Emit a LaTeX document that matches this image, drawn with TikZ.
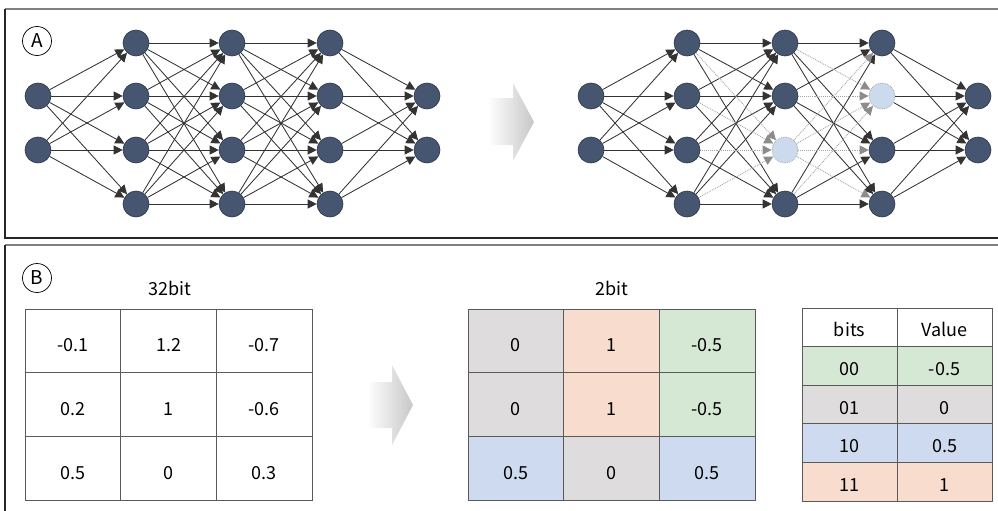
\documentclass[tikz,border=0pt]{standalone}
\usepackage{fontspec}
\setmainfont{Noto Sans CJK KR}
\usetikzlibrary{arrows.meta,backgrounds}
\definecolor{nodefill}{HTML}{465670}
\definecolor{nodeedge}{HTML}{2B3545}
\definecolor{prunefill}{HTML}{CCDAEE}
\definecolor{cgray}{HTML}{DEDCDC}
\definecolor{cpeach}{HTML}{F8DCCD}
\definecolor{cgreen}{HTML}{D5E8D3}
\definecolor{cblue}{HTML}{CEDAF0}
\definecolor{gridline}{HTML}{5A5A5A}
\tikzset{
  neuron/.style={circle,fill=nodefill,draw=nodeedge,line width=0.6pt,minimum size=26pt,inner sep=0pt},
  pruned/.style={circle,fill=prunefill,draw=black!35,densely dotted,line width=0.8pt,minimum size=26pt,inner sep=0pt},
  edge/.style={draw=black!80,line width=0.85pt,-{Triangle[length=9pt,width=9pt]}},
  pedge/.style={draw=black!35,densely dotted,line width=0.9pt,-{Triangle[length=9pt,width=9pt,color=black!45,fill=black!45]}},
  cell/.style={draw=gridline,line width=0.8pt,inner sep=0pt,outer sep=0pt,minimum width=95.7pt,minimum height=63.7pt,text height=22pt,text depth=0pt,font=\fontsize{18}{20}\selectfont},
  lcell/.style={draw=gridline,line width=0.8pt,inner sep=0pt,outer sep=0pt,minimum width=95pt,minimum height=38.6pt,text height=19pt,text depth=0pt,font=\fontsize{18}{20}\selectfont},
  title/.style={font=\fontsize{18}{20}\selectfont},
  panelmark/.style={circle,draw=black,line width=0.7pt,minimum size=29pt,inner sep=0pt,font=\fontsize{19}{20}\selectfont}
}
\begin{document}
\begin{tikzpicture}[x=1pt,y=-1pt]
\useasboundingbox (0,0) rectangle (998,511);
% panel frames
\draw[black!50,line width=1.5pt] (5,9) -- (998,9);
\draw[black!85,line width=1.2pt] (5,9) -- (5,238) -- (998,238);
\draw[black!50,line width=1.5pt] (5,245) -- (998,245);
\draw[black!85,line width=1.2pt] (5,245) -- (5,511);
\node[panelmark] (markA) at (37,41) {A};
\node[panelmark] (markB) at (37,278) {B};
% ---- left network
\foreach \i/\y in {1/96,2/150} {\node[neuron] (L0\i) at (38,\y) {};}
\foreach \l/\x in {1/136,2/232,3/330} {
  \foreach \i/\y in {1/43,2/96,3/150,4/204} {\node[neuron] (L\l\i) at (\x,\y) {};}
}
\foreach \i/\y in {1/96,2/150} {\node[neuron] (L4\i) at (427,\y) {};}
\begin{scope}[on background layer]
\foreach \i in {1,2} \foreach \j in {1,...,4} \draw[edge] (L0\i) -- (L1\j);
\foreach \i in {1,...,4} \foreach \j in {1,...,4} {\draw[edge] (L1\i) -- (L2\j); \draw[edge] (L2\i) -- (L3\j);}
\foreach \i in {1,...,4} \foreach \j in {1,2} \draw[edge] (L3\i) -- (L4\j);
\end{scope}
% ---- right network
\foreach \i/\y in {1/96,2/150} {\node[neuron] (R0\i) at (591,\y) {};}
\foreach \i/\y in {1/43,2/96,3/150,4/204} {\node[neuron] (R1\i) at (687,\y) {};}
\foreach \i/\y in {1/43,2/96,4/204} {\node[neuron] (R2\i) at (785,\y) {};}
\node[pruned] (R23) at (785,150) {};
\foreach \i/\y in {1/43,3/150,4/204} {\node[neuron] (R3\i) at (882,\y) {};}
\node[pruned] (R32) at (882,96) {};
\foreach \i/\y in {1/96,2/150} {\node[neuron] (R4\i) at (978,\y) {};}
\begin{scope}[on background layer]
\foreach \i in {1,2} \foreach \j in {1,...,4} \draw[edge] (R0\i) -- (R1\j);
\foreach \i in {1,...,4} \foreach \j in {1,2,4} \draw[edge] (R1\i) -- (R2\j);
\foreach \i in {1,...,4} \draw[pedge] (R1\i) -- (R23);
\foreach \i in {1,2,4} \foreach \j in {1,3,4} \draw[edge] (R2\i) -- (R3\j);
\foreach \i in {1,2,4} \draw[pedge] (R2\i) -- (R32);
\foreach \j in {1,3,4} \draw[pedge] (R23) -- (R3\j);
\draw[pedge] (R23) -- (R32);
\foreach \i in {1,...,4} \foreach \j in {1,2} \draw[edge] (R3\i) -- (R4\j);
\end{scope}
% ---- big arrows
\shade[left color=white,right color=black!22] (488,98) -- (513,98) -- (513,83) -- (534,122) -- (513,161) -- (513,145) -- (488,145) -- cycle;
\shade[left color=white,right color=black!22] (367,382) -- (392,382) -- (392,365) -- (413,405) -- (392,445) -- (392,428) -- (367,428) -- cycle;
% ---- table 32bit
\node[title] (t32) at (170,288) {32bit};
\node[cell] (A11) at (72.9,340.8) {-0.1};
\node[cell] (A12) at (168.6,340.8) {1.2};
\node[cell] (A13) at (264.3,340.8) {-0.7};
\node[cell] (A21) at (72.9,404.5) {0.2};
\node[cell] (A22) at (168.6,404.5) {1};
\node[cell] (A23) at (264.3,404.5) {-0.6};
\node[cell] (A31) at (72.9,468.2) {0.5};
\node[cell] (A32) at (168.6,468.2) {0};
\node[cell] (A33) at (264.3,468.2) {0.3};
% ---- table 2bit
\node[title] (t2) at (612,288) {2bit};
\node[cell,fill=cgray]  (B11) at (515.9,340.8) {0};
\node[cell,fill=cpeach] (B12) at (611.6,340.8) {1};
\node[cell,fill=cgreen] (B13) at (707.3,340.8) {-0.5};
\node[cell,fill=cgray]  (B21) at (515.9,404.5) {0};
\node[cell,fill=cpeach] (B22) at (611.6,404.5) {1};
\node[cell,fill=cgreen] (B23) at (707.3,404.5) {-0.5};
\node[cell,fill=cblue]  (B31) at (515.9,468.2) {0.5};
\node[cell,fill=cgray]  (B32) at (611.6,468.2) {0};
\node[cell,fill=cblue]  (B33) at (707.3,468.2) {0.5};
% ---- lookup table
\node[lcell] (C01) at (849.5,327.3) {bits};
\node[lcell] (C02) at (944.5,327.3) {Value};
\node[lcell,fill=cgreen] (C11) at (849.5,365.9) {00};
\node[lcell,fill=cgreen] (C12) at (944.5,365.9) {-0.5};
\node[lcell,fill=cgray]  (C21) at (849.5,404.5) {01};
\node[lcell,fill=cgray]  (C22) at (944.5,404.5) {0};
\node[lcell,fill=cblue]  (C31) at (849.5,443.1) {10};
\node[lcell,fill=cblue]  (C32) at (944.5,443.1) {0.5};
\node[lcell,fill=cpeach] (C41) at (849.5,481.7) {11};
\node[lcell,fill=cpeach] (C42) at (944.5,481.7) {1};
\end{tikzpicture}
\end{document}
